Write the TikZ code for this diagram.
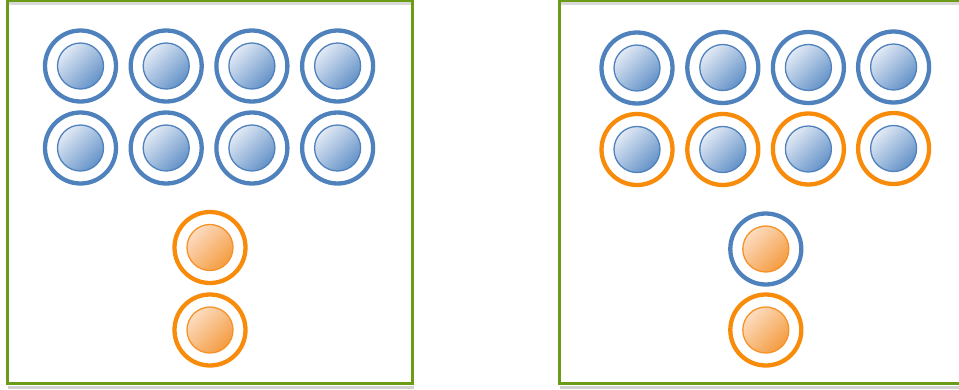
\documentclass[tikz,border=0pt]{standalone}
\begin{document}
\definecolor{frameGreen}{RGB}{106,156,24}
\definecolor{ringBlue}{RGB}{79,129,189}
\definecolor{ringOrange}{RGB}{248,140,10}
\definecolor{discBlueLight}{RGB}{226,234,245}
\definecolor{discBlueMid}{RGB}{205,220,238}
\definecolor{discBlueDark}{RGB}{100,146,200}
\definecolor{discOrangeLight}{RGB}{252,220,192}
\definecolor{discOrangeMid}{RGB}{250,200,152}
\definecolor{discOrangeDark}{RGB}{244,156,66}
\definecolor{discOrangeEdge}{RGB}{246,146,40}
\begin{tikzpicture}[x=1pt,y=-1pt,
  ringB/.style={circle,draw=ringBlue,line width=4.3pt,minimum size=71pt,inner sep=0pt},
  ringO/.style={circle,draw=ringOrange,line width=4.3pt,minimum size=71pt,inner sep=0pt},
  discB/.style={circle,draw=ringBlue,line width=1.3pt,minimum size=46pt,inner sep=0pt,
    top color=discBlueLight,middle color=discBlueMid,bottom color=discBlueDark,shading angle=45},
  discO/.style={circle,draw=discOrangeEdge,line width=1.3pt,minimum size=46pt,inner sep=0pt,
    top color=discOrangeLight,middle color=discOrangeMid,bottom color=discOrangeDark,shading angle=45},
  frameline/.style={draw=frameGreen,line width=3pt},
  shadowline/.style={draw=black!18,line width=3pt}]
\useasboundingbox (0,0) rectangle (959,389);
\begin{scope}
\clip (0,0) rectangle (959,389);
% shadows
\path[shadowline] (8,387) -- (414,387);
\path[shadowline] (560,387) -- (962,387);
\path[draw=black!15,line width=2.5pt] (8,3.4) -- (411,3.4);
\path[draw=black!15,line width=2.5pt] (560,3.4) -- (962,3.4);
% frames
\path[frameline] (7,0.8) rectangle (412.5,383.4);
\path[frameline] (559.2,0.8) rectangle (966,383.4);
\end{scope}
% left panel
\foreach \n/\x/\y in {1/80.5/66,2/166.2/66,3/251.9/66,4/337.6/66,5/80.5/148,6/166.2/148,7/251.9/148,8/337.6/148}{
  \node[ringB] (LR\n) at (\x,\y) {};
  \node[discB] (LD\n) at (\x,\y) {};
}
\node[ringO] (LR9) at (210,247.5) {};
\node[discO] (LD9) at (210,247.5) {};
\node[ringO] (LR10) at (210,330) {};
\node[discO] (LD10) at (210,330) {};
% right panel
\foreach \n/\x/\y in {1/637/68,2/722.8/67.5,3/808.4/67.5,4/893.6/67}{
  \node[ringB] (RR\n) at (\x,\y) {};
  \node[discB] (RD\n) at (\x,\y) {};
}
\foreach \n/\x/\y in {5/637/149.5,6/722.8/149.5,7/808.4/149,8/893.6/148.5}{
  \node[ringO] (RR\n) at (\x,\y) {};
  \node[discB] (RD\n) at (\x,\y) {};
}
\node[ringB] (RR9) at (765.8,249) {};
\node[discO] (RD9) at (765.8,249) {};
\node[ringO] (RR10) at (765.8,330) {};
\node[discO] (RD10) at (765.8,330) {};
\end{tikzpicture}
\end{document}
